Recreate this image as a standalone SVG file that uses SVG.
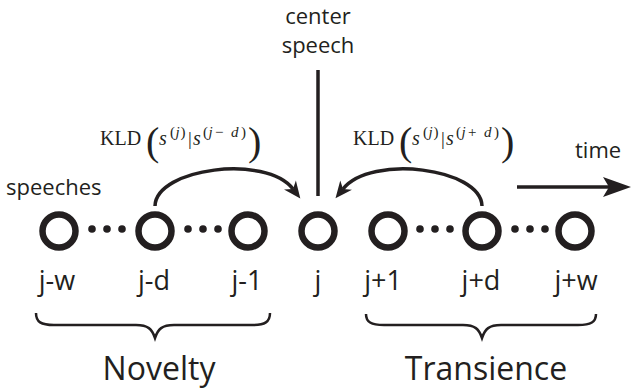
<svg xmlns="http://www.w3.org/2000/svg" width="631" height="389" viewBox="0 0 631 389">
<style>
.node{fill:none;stroke:#231f20;stroke-width:6.5}
.dot{fill:#231f20}
.lbl{font-family:"Open Sans","Noto Sans",sans-serif;font-size:27px;fill:#231f20;text-anchor:middle}
.big{font-family:"Open Sans","Noto Sans",sans-serif;font-size:32px;fill:#231f20;text-anchor:middle}
.sm{font-family:"Open Sans","Noto Sans",sans-serif;font-size:22px;fill:#231f20}
.cm{font-family:"Liberation Serif",serif;fill:#231f20}
.it{font-style:italic}
.conn{fill:none;stroke:#231f20;stroke-width:3.5}
.brace{fill:none;stroke:#231f20;stroke-width:2.5}
</style>
<defs>
<marker id="ah" markerUnits="userSpaceOnUse" markerWidth="40" markerHeight="40" refX="0" refY="0" orient="auto" overflow="visible">
<path d="M12,0 L-5,-7.5 L0,0 L-5,7.5 Z" fill="#231f20"/>
</marker>
<marker id="ahbig" markerUnits="userSpaceOnUse" markerWidth="40" markerHeight="40" refX="0" refY="0" orient="auto" overflow="visible">
<path d="M22,0 L-6,-10 L0,0 L-6,10 Z" fill="#231f20"/>
</marker>
</defs>

<g id="connectors">
<path class="conn" d="M155,206 C156,168 266,154 293,189" marker-end="url(#ah)"/>
<path class="conn" d="M482,206 C481,168 371,154 343,189" marker-end="url(#ah)"/>
<line class="conn" x1="318" y1="70" x2="318" y2="196"/>
<line class="conn" x1="517" y1="187" x2="609" y2="187" marker-end="url(#ahbig)"/>
</g>

<g id="node-jw"><circle class="node" cx="59" cy="231" r="16.5"/><text class="lbl" x="57" y="290">j-w</text></g>
<g id="dots1"><circle class="dot" cx="92" cy="229" r="3.8"/><circle class="dot" cx="107" cy="229" r="3.8"/><circle class="dot" cx="122" cy="229" r="3.8"/></g>
<g id="node-jd"><circle class="node" cx="155" cy="231" r="16.5"/><text class="lbl" x="154" y="290">j-d</text></g>
<g id="dots2"><circle class="dot" cx="188" cy="229" r="3.8"/><circle class="dot" cx="203" cy="229" r="3.8"/><circle class="dot" cx="218" cy="229" r="3.8"/></g>
<g id="node-j1"><circle class="node" cx="248" cy="231" r="16.5"/><text class="lbl" x="247" y="290">j-1</text></g>
<g id="node-j"><circle class="node" cx="318" cy="231" r="16.5"/><text class="lbl" x="318" y="290">j</text></g>
<g id="node-jp1"><circle class="node" cx="388" cy="231" r="16.5"/><text class="lbl" x="383" y="290">j+1</text></g>
<g id="dots3"><circle class="dot" cx="420" cy="229" r="3.8"/><circle class="dot" cx="435" cy="229" r="3.8"/><circle class="dot" cx="450" cy="229" r="3.8"/></g>
<g id="node-jpd"><circle class="node" cx="482" cy="231" r="16.5"/><text class="lbl" x="481" y="290">j+d</text></g>
<g id="dots4"><circle class="dot" cx="515" cy="229" r="3.8"/><circle class="dot" cx="530" cy="229" r="3.8"/><circle class="dot" cx="545" cy="229" r="3.8"/></g>
<g id="node-jpw"><circle class="node" cx="575" cy="231" r="16.5"/><text class="lbl" x="576" y="290">j+w</text></g>

<g id="label-speeches"><text class="sm" x="6" y="195">speeches</text></g>
<g id="label-center"><text class="sm" x="318" y="24" text-anchor="middle">center</text><text class="sm" x="318" y="53" text-anchor="middle">speech</text></g>
<g id="label-time"><text class="sm" x="575" y="158">time</text></g>

<g id="kld-left">
<text class="cm" x="100" y="145" font-size="20">KLD</text>
<text class="cm" x="146" y="155" font-size="40">(</text>
<text class="cm it" x="159" y="145" font-size="20">s</text>
<text class="cm" y="137" font-size="15"><tspan x="170">(</tspan><tspan class="it" x="175.5">j</tspan><tspan x="180.5">)</tspan></text>
<text class="cm" x="188" y="145" font-size="19">|</text>
<text class="cm it" x="193" y="145" font-size="20">s</text>
<text class="cm" y="137" font-size="15"><tspan x="203">(</tspan><tspan class="it" x="208.5">j</tspan><tspan x="215">−</tspan><tspan class="it" x="231">d</tspan><tspan x="241">)</tspan></text>
<text class="cm" x="248" y="155" font-size="40">)</text>
</g>

<g id="kld-right">
<text class="cm" x="353" y="145" font-size="20">KLD</text>
<text class="cm" x="399" y="155" font-size="40">(</text>
<text class="cm it" x="412" y="145" font-size="20">s</text>
<text class="cm" y="137" font-size="15"><tspan x="423">(</tspan><tspan class="it" x="428.5">j</tspan><tspan x="433.5">)</tspan></text>
<text class="cm" x="441" y="145" font-size="19">|</text>
<text class="cm it" x="446" y="145" font-size="20">s</text>
<text class="cm" y="137" font-size="15"><tspan x="456">(</tspan><tspan class="it" x="461.5">j</tspan><tspan x="468">+</tspan><tspan class="it" x="484">d</tspan><tspan x="494">)</tspan></text>
<text class="cm" x="501" y="155" font-size="40">)</text>
</g>

<g id="brace-novelty">
<path class="brace" d="M36,313 C36,322 41,325 54,325 L136,325 C148,325 152,329 155,338 C158,329 162,325 174,325 L252,325 C265,325 270,322 270,313"/>
<text class="big" x="159" y="380">Novelty</text>
</g>
<g id="brace-transience">
<path class="brace" d="M366,314 C366,322 371,325 384,325 L463,325 C475,325 479,329 482,338 C485,329 489,325 501,325 L578,325 C591,325 596,322 596,314"/>
<text class="big" x="486" y="380">Transience</text>
</g>
</svg>
